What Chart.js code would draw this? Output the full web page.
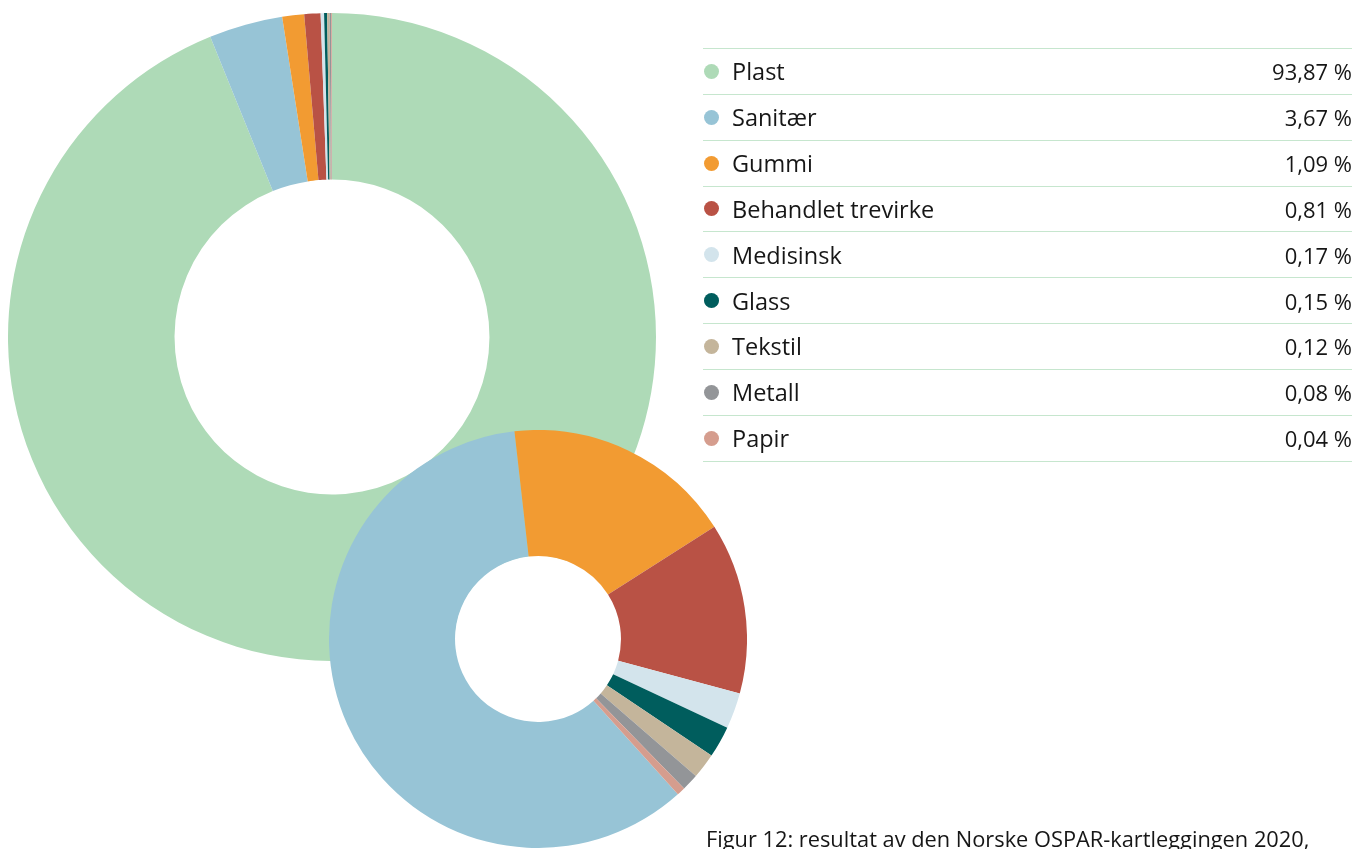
<!DOCTYPE html>
<html lang="no">
<head>
<meta charset="utf-8">
<title>OSPAR-kartleggingen 2020</title>
<script src="https://cdn.jsdelivr.net/npm/chart.js@4/dist/chart.umd.min.js"></script>
<style>
    html, body {
        margin: 0;
        padding: 0;
        background: #ffffff;
    }
    body {
        width: 1355px;
        height: 849px;
        overflow: hidden;
        position: relative;
        font-family: "Open Sans", sans-serif;
        color: #161616;
    }
    #stor {
        position: absolute;
        left: 8px;
        top: 13px;
    }
    #liten {
        position: absolute;
        left: 329px;
        top: 430px;
    }
    #tabell {
        position: absolute;
        left: 703px;
        top: 48px;
        width: 649px;
    }
    .rad {
        box-sizing: border-box;
        height: 45.85px;
        border-top: 1.5px solid #c6e6ce;
        display: flex;
        align-items: center;
    }
    .rad:last-child {
        height: 47.35px;
        border-bottom: 1.5px solid #c6e6ce;
    }
    .prikk {
        width: 15px;
        height: 15px;
        border-radius: 50%;
        margin-left: 1px;
        margin-right: 13px;
        flex: none;
    }
    .navn {
        flex: 1;
        font-size: 23.5px;
    }
    .verdi {
        text-align: right;
        font-size: 22px;
    }
    #figurtekst {
        position: absolute;
        left: 706px;
        top: 825px;
        font-size: 21.8px;
        line-height: 28px;
        white-space: nowrap;
    }
</style>
</head>
<body>
<canvas id="stor" width="648" height="648"></canvas>
<canvas id="liten" width="418" height="418"></canvas>
<div id="tabell"></div>
<div id="figurtekst">Figur 12: resultat av den Norske OSPAR-kartleggingen 2020,</div>

<script>
const kategorier = ['Plast', 'Sanitær', 'Gummi', 'Behandlet trevirke', 'Medisinsk', 'Glass', 'Tekstil', 'Metall', 'Papir'];
const andeler = [93.87, 3.67, 1.09, 0.81, 0.17, 0.15, 0.12, 0.08, 0.04];
const farger = ['#aedab7', '#97c4d6', '#f29b32', '#b95245', '#d3e4ec', '#005d5d', '#c4b59b', '#939598', '#d59d8e'];

function formaterProsent(verdi) {
    return verdi.toFixed(2).replace('.', ',') + '\u00a0%';
}

// fyller hullet i ringen med hvitt, så det som ligger under ikke synes
const hvittHull = {
    id: 'hvittHull',
    beforeDatasetsDraw(chart) {
        const bue = chart.getDatasetMeta(0).data[0];
        if (!bue)
            return;
        const ctx = chart.ctx;
        ctx.save();
        ctx.fillStyle = '#ffffff';
        ctx.beginPath();
        ctx.arc(bue.x, bue.y, bue.innerRadius + 0.5, 0, Math.PI * 2);
        ctx.fill();
        ctx.restore();
    }
};

function lagDoughnut(id, etiketter, data, fargeliste, cutout, rotation, plugins) {
    const ctx = document.getElementById(id).getContext('2d');
    return new Chart(ctx, {
        type: 'doughnut',
        data: {
            labels: etiketter,
            datasets: [
                {
                    data,
                    backgroundColor: fargeliste,
                    borderWidth: 0,
                    hoverOffset: 0
                }
            ]
        },
        options: {
            responsive: false,
            animation: false,
            cutout,
            rotation,
            layout: {
                padding: 0
            },
            events: [],
            plugins: {
                legend: {
                    display: false
                },
                tooltip: {
                    enabled: false
                }
            }
        },
        plugins: plugins || []
    });
}

// stor ring: alle kategorier, med plast først fra toppen
lagDoughnut('stor', kategorier, andeler, farger, '48.6%', 0);

// liten ring: alt unntatt plast
lagDoughnut('liten', kategorier.slice(1), andeler.slice(1), farger.slice(1), '39.7%', 138, [hvittHull]);

const tabell = document.getElementById('tabell');
kategorier.forEach((navn, i) => {
    tabell.innerHTML += `
        <div class="rad">
            <div class="prikk" style="background:${farger[i]}"></div>
            <div class="navn">${navn}</div>
            <div class="verdi">${formaterProsent(andeler[i])}</div>
        </div>
    `;
});
</script>
</body>
</html>
